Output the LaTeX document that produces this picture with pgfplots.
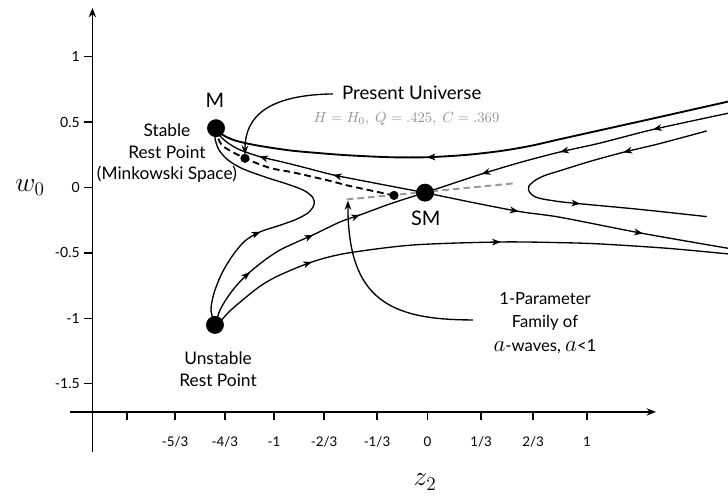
\documentclass[border=0pt]{standalone}
\usepackage{pgfplots}
\pgfplotsset{compat=1.18}
\usepackage{fontspec}
\setmainfont{Lato}
\usetikzlibrary{arrows.meta,decorations.markings}
\newcommand{\ah}{\arrow{Stealth[length=6.5pt,width=5pt,inset=1.8pt]}}
\begin{document}
\begin{tikzpicture}
\begin{axis}[
  x=114.75pt, y=98.1pt,
  xmin=-2.19, xmax=1.493, ymin=-1.716, ymax=1.372,
  axis lines=left,
  axis line style={line width=1.1pt},
  x axis line style={-{Stealth[length=7pt,width=5.5pt]}},
  y axis line style={-{Stealth[length=7pt,width=5.5pt]}},
  clip=false,
  xtick={-1.964,-1.650,-1.324,-1.003,-0.676,-0.330,0,0.350,0.690,1.043},
  xticklabels={,-5/3,-4/3,-1,-2/3,-1/3,0,1/3,2/3,1},
  ytick={-1.5,-1,-0.5,0,0.5,1},
  yticklabels={-1.5,-1,-0.5,0,0.5,1},
  tick align=outside,
  major tick length=6pt,
  tick style={line width=1.1pt,black},
  xticklabel style={font=\fontsize{10}{12}\selectfont, yshift=-9pt},
  yticklabel style={font=\fontsize{10.5}{12}\selectfont},
  every axis plot/.append style={line width=1pt, black},
]
% axis overhangs
\draw[line width=1.1pt] (axis cs:-2.337,-1.716) -- (axis cs:-2.19,-1.716);
\draw[line width=1.1pt] (axis cs:-2.19,-1.716) -- (axis cs:-2.19,-2.02);

% top curve (right -> M)
\addplot[smooth, line width=1.4pt, postaction={decorate}, decoration={markings, mark=at position 0.587 with {\ah}}] coordinates {
(1.964,0.656) (1.781,0.608) (1.454,0.522) (1.127,0.437) (0.866,0.369) (0.670,0.317) (0.474,0.278) (0.245,0.248) (-0.003,0.231) (-0.245,0.231) (-0.507,0.245) (-0.683,0.260) (-0.899,0.283) (-1.114,0.321) (-1.258,0.359) (-1.343,0.405) (-1.382,0.453)};

% stable manifold of SM from the right
\addplot[smooth, postaction={decorate}, decoration={markings, mark=at position 0.245 with {\ah}, mark=at position 0.55 with {\ah}, mark=at position 0.81 with {\ah}}] coordinates {
(1.964,0.567) (1.474,0.443) (1.127,0.339) (0.866,0.271) (0.605,0.191) (0.354,0.103) (0.147,0.023) (-0.016,-0.040)};

% SM -> M
\addplot[smooth, postaction={decorate}, decoration={markings, mark=at position 0.42 with {\ah}, mark=at position 0.76 with {\ah}}] coordinates {
(-0.016,-0.040) (-0.245,0.011) (-0.507,0.070) (-0.618,0.096) (-0.833,0.161) (-0.964,0.199) (-1.095,0.235) (-1.225,0.287) (-1.304,0.340) (-1.356,0.394) (-1.382,0.453)};

% present universe trajectory (dashed)
\addplot[smooth, line width=1.4pt, dash pattern=on 5pt off 3pt] coordinates {
(-1.382,0.453) (-1.369,0.378) (-1.330,0.310) (-1.193,0.223) (-1.029,0.149) (-0.879,0.115) (-0.637,0.050) (-0.507,0.011) (-0.219,-0.061)};

% one-parameter family (gray dashed)
\addplot[line width=1.5pt, gray!80, dash pattern=on 5pt off 3pt] coordinates {(-0.528,-0.092) (0.572,0.032)};

% U -> M
\addplot[smooth, postaction={decorate}, decoration={markings, mark=at position 0.36 with {\ah}}] coordinates {
(-1.389,-1.051) (-1.415,-0.937) (-1.395,-0.807) (-1.343,-0.654) (-1.271,-0.516) (-1.193,-0.409) (-1.095,-0.340) (-0.977,-0.294) (-0.866,-0.248) (-0.781,-0.195) (-0.742,-0.134) (-0.748,-0.080) (-0.801,-0.027) (-0.899,0.019) (-1.062,0.080) (-1.212,0.145) (-1.304,0.210) (-1.363,0.287) (-1.389,0.378) (-1.382,0.453)};

% U -> SM
\addplot[smooth, postaction={decorate}, decoration={markings, mark=at position 0.24 with {\ah}, mark=at position 0.53 with {\ah}, mark=at position 0.73 with {\ah}}] coordinates {
(-1.382,-1.028) (-1.356,-0.937) (-1.310,-0.845) (-1.245,-0.745) (-1.160,-0.646) (-1.062,-0.554) (-0.964,-0.478) (-0.853,-0.417) (-0.748,-0.363) (-0.572,-0.264) (-0.441,-0.210) (-0.265,-0.134) (-0.147,-0.088) (-0.016,-0.040)};

% SM -> right
\addplot[smooth, postaction={decorate}, decoration={markings, mark=at position 0.31 with {\ah}, mark=at position 0.72 with {\ah}}] coordinates {
(-0.016,-0.040) (0.278,-0.111) (0.605,-0.185) (0.866,-0.228) (1.400,-0.350) (1.964,-0.465)};

% U -> right (bottom)
\addplot[smooth, postaction={decorate}, decoration={markings, mark=at position 0.21 with {\ah}, mark=at position 0.57 with {\ah}}] coordinates {
(-1.356,-1.028) (-1.291,-0.944) (-1.182,-0.835) (-1.082,-0.745) (-0.964,-0.669) (-0.748,-0.567) (-0.528,-0.503) (-0.095,-0.440) (0.474,-0.417) (0.866,-0.422) (1.127,-0.432) (1.565,-0.465) (1.964,-0.508)};

% hyperbola-like trajectory on the right
\addplot[smooth, postaction={decorate}, decoration={markings, mark=at position 0.23 with {\ah}, mark=at position 0.66 with {\ah}}] coordinates {
(1.825,0.432) (1.520,0.336) (1.278,0.268) (1.062,0.199) (0.866,0.128) (0.768,0.092) (0.703,0.054) (0.663,0.011) (0.660,-0.019) (0.683,-0.057) (0.735,-0.084) (0.866,-0.109) (1.008,-0.126) (1.389,-0.168) (1.825,-0.223)};

% rest points
\addplot[only marks, mark=*, mark size=6.2pt, mark options={fill=black}] coordinates {(-1.382,0.453) (-0.016,-0.040) (-1.389,-1.051)};
\addplot[only marks, mark=*, mark size=2.9pt, mark options={fill=black}] coordinates {(-1.193,0.223) (-0.219,-0.061)};

% pointers
\draw[line width=1pt, -{Stealth[length=7pt,width=5pt]}] (axis cs:-0.618,0.715) .. controls (axis cs:-1.029,0.707) and (axis cs:-1.193,0.554) .. (axis cs:-1.193,0.250);
\draw[line width=1pt, -{Stealth[length=7pt,width=5pt]}] (axis cs:0.297,-1.013) .. controls (axis cs:-0.245,-1.013) and (axis cs:-0.520,-0.860) .. (axis cs:-0.520,-0.100);

% labels
\node[font=\fontsize{15}{17}\selectfont] at (axis cs:-1.389,0.669) {M};
\node[font=\fontsize{15}{17}\selectfont] at (axis cs:-0.011,-0.233) {SM};
\node[align=center, font=\fontsize{13}{16.2}\selectfont] at (axis cs:-1.703,0.260) {Stable\\Rest Point\\(Minkowski Space)};
\node[font=\fontsize{14}{16}\selectfont] at (axis cs:-0.103,0.725) {Present Universe};
\node[text=gray!85] at (axis cs:-0.137,0.524) {\fontsize{10.95}{13}\selectfont$H=H_0,\ Q=.425,\ C=.369$};
\node[align=center, font=\fontsize{12.5}{17.5}\selectfont] at (axis cs:0.768,-1.035) {1-Parameter\\Family of\\{\LARGE$a$}-waves, {\LARGE$a$}<1};
\node[align=center, font=\fontsize{13}{16.5}\selectfont] at (axis cs:-1.369,-1.388) {Unstable\\Rest Point};
\node at (axis cs:-2.598,0.0) {\huge$w_0$};
\node at (axis cs:-0.016,-2.252) {\huge$z_2$};

\coordinate (bbll) at (axis cs:-2.794,-2.366);
\coordinate (bbur) at (axis cs:1.964,1.433);
\end{axis}
\pgfresetboundingbox
\path (bbll) rectangle (bbur);
\end{tikzpicture}
\end{document}
